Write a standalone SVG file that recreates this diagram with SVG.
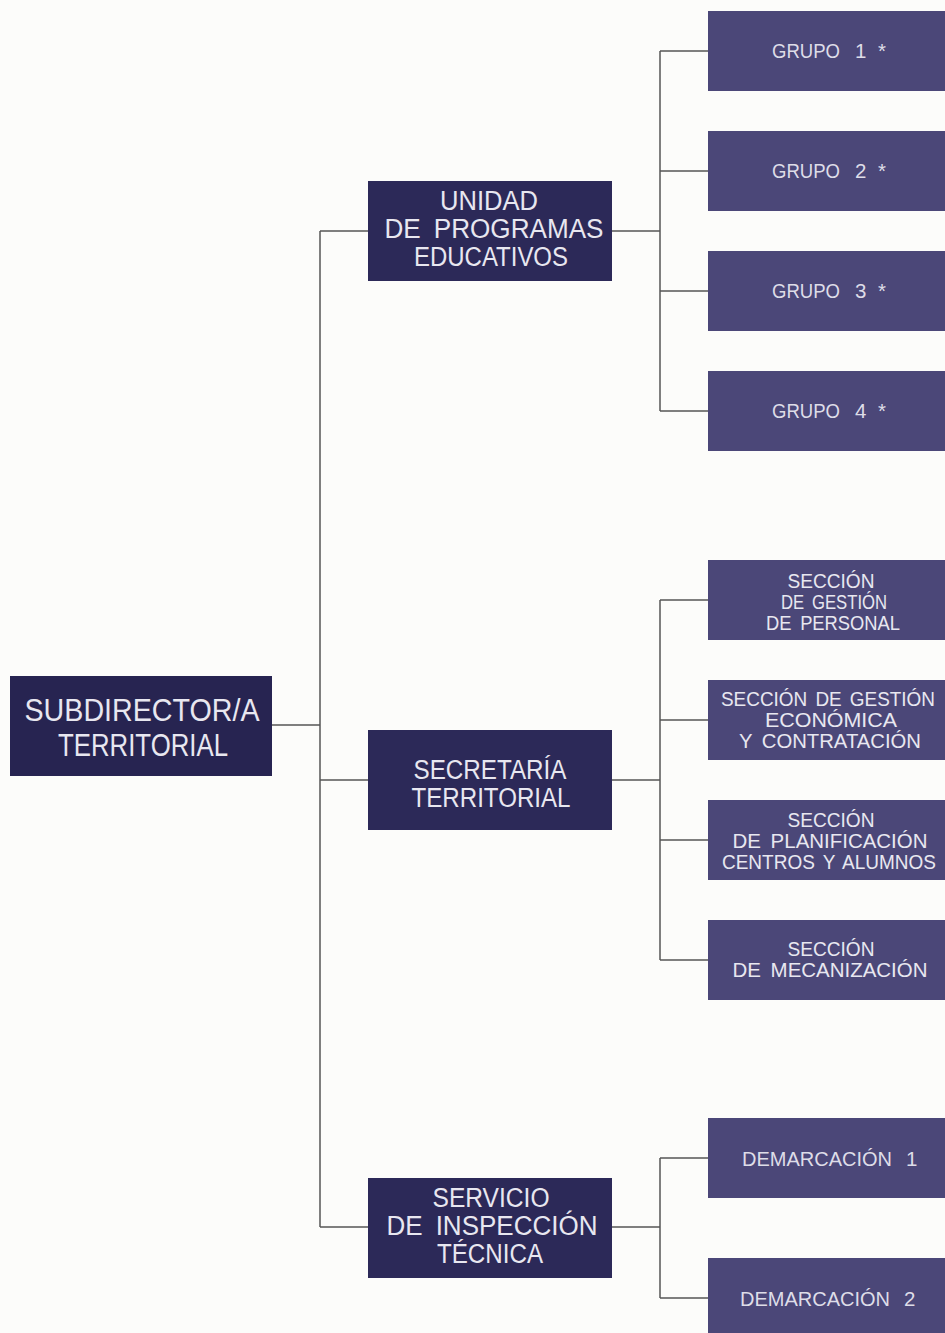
<svg xmlns="http://www.w3.org/2000/svg" width="945" height="1333" viewBox="0 0 945 1333">
<style>
.bg{fill:#fcfcfa}
.top{fill:#272451}
.mid{fill:#2c2958}
.leaf{fill:#4b4778}
.t{font-family:"Liberation Sans",Arial,sans-serif;fill:#e8e7f0;text-anchor:middle}
.tl{font-family:"Liberation Sans",Arial,sans-serif;fill:#dedde8}
.big{font-size:32px}
.m{font-size:27px;word-spacing:6px}
.s{font-size:20.5px;word-spacing:4px}
.n{font-size:19.5px;word-spacing:3px}
.c{stroke:#555;stroke-width:1.5;fill:none}
</style>
<rect class="bg" x="0" y="0" width="945" height="1333"/>
<g id="connectors">
<path class="c" d="M272 725H320M320 231V1227M320 231H368M320 780H368M320 1227H368"/>
<path class="c" d="M612 231H660M660 51V411M660 51H708M660 171H708M660 291H708M660 411H708"/>
<path class="c" d="M612 780H660M660 600V960M660 600H708M660 720H708M660 840H708M660 960H708"/>
<path class="c" d="M612 1227H660M660 1158V1298M660 1158H708M660 1298H708"/>
</g>
<g id="subdirector">
<rect class="top" x="10" y="676" width="262" height="100"/>
<text class="t big" x="142" y="721" textLength="235" lengthAdjust="spacingAndGlyphs">SUBDIRECTOR/A</text>
<text class="t big" x="143" y="756" textLength="170" lengthAdjust="spacingAndGlyphs">TERRITORIAL</text>
</g>
<g id="unidad">
<rect class="mid" x="368" y="181" width="244" height="100"/>
<text class="t m" x="489" y="210" textLength="98" lengthAdjust="spacingAndGlyphs">UNIDAD</text>
<text class="t m" x="494" y="238" textLength="219" lengthAdjust="spacingAndGlyphs">DE PROGRAMAS</text>
<text class="t m" x="491" y="266" textLength="154" lengthAdjust="spacingAndGlyphs">EDUCATIVOS</text>
</g>
<g id="secretaria">
<rect class="mid" x="368" y="730" width="244" height="100"/>
<text class="t m" x="490" y="779" textLength="153" lengthAdjust="spacingAndGlyphs">SECRETARÍA</text>
<text class="t m" x="491" y="807" textLength="159" lengthAdjust="spacingAndGlyphs">TERRITORIAL</text>
</g>
<g id="servicio">
<rect class="mid" x="368" y="1178" width="244" height="100"/>
<text class="t m" x="491" y="1207" textLength="117" lengthAdjust="spacingAndGlyphs">SERVICIO</text>
<text class="t m" x="492" y="1235" textLength="211" lengthAdjust="spacingAndGlyphs">DE INSPECCIÓN</text>
<text class="t m" x="490" y="1263" textLength="106" lengthAdjust="spacingAndGlyphs">TÉCNICA</text>
</g>
<g id="grupo1">
<rect class="leaf" x="708" y="11" width="245" height="80"/>
<text class="tl s" y="58"><tspan x="772" textLength="68" lengthAdjust="spacingAndGlyphs">GRUPO</tspan><tspan x="855">1</tspan><tspan x="878">*</tspan></text>
</g>
<g id="grupo2">
<rect class="leaf" x="708" y="131" width="245" height="80"/>
<text class="tl s" y="178"><tspan x="772" textLength="68" lengthAdjust="spacingAndGlyphs">GRUPO</tspan><tspan x="855">2</tspan><tspan x="878">*</tspan></text>
</g>
<g id="grupo3">
<rect class="leaf" x="708" y="251" width="245" height="80"/>
<text class="tl s" y="298"><tspan x="772" textLength="68" lengthAdjust="spacingAndGlyphs">GRUPO</tspan><tspan x="855">3</tspan><tspan x="878">*</tspan></text>
</g>
<g id="grupo4">
<rect class="leaf" x="708" y="371" width="245" height="80"/>
<text class="tl s" y="418"><tspan x="772" textLength="68" lengthAdjust="spacingAndGlyphs">GRUPO</tspan><tspan x="855">4</tspan><tspan x="878">*</tspan></text>
</g>
<g id="seccion-personal">
<rect class="leaf" x="708" y="560" width="245" height="80"/>
<text class="t s" x="831" y="588" textLength="87" lengthAdjust="spacingAndGlyphs">SECCIÓN</text>
<text class="t s" x="834" y="609" textLength="106" lengthAdjust="spacingAndGlyphs">DE GESTIÓN</text>
<text class="t s" x="833" y="630" textLength="134" lengthAdjust="spacingAndGlyphs">DE PERSONAL</text>
</g>
<g id="seccion-economica">
<rect class="leaf" x="708" y="680" width="245" height="80"/>
<text class="t n" x="828" y="706" textLength="214" lengthAdjust="spacingAndGlyphs">SECCIÓN DE GESTIÓN</text>
<text class="t s" x="831" y="727" textLength="132" lengthAdjust="spacingAndGlyphs">ECONÓMICA</text>
<text class="t s" x="830" y="748" textLength="182" lengthAdjust="spacingAndGlyphs">Y CONTRATACIÓN</text>
</g>
<g id="seccion-planificacion">
<rect class="leaf" x="708" y="800" width="245" height="80"/>
<text class="t s" x="831" y="827" textLength="87" lengthAdjust="spacingAndGlyphs">SECCIÓN</text>
<text class="t s" x="830" y="848" textLength="195" lengthAdjust="spacingAndGlyphs">DE PLANIFICACIÓN</text>
<text class="t n" x="829" y="869" textLength="214" lengthAdjust="spacingAndGlyphs">CENTROS Y ALUMNOS</text>
</g>
<g id="seccion-mecanizacion">
<rect class="leaf" x="708" y="920" width="245" height="80"/>
<text class="t s" x="831" y="956" textLength="87" lengthAdjust="spacingAndGlyphs">SECCIÓN</text>
<text class="t s" x="830" y="977" textLength="195" lengthAdjust="spacingAndGlyphs">DE MECANIZACIÓN</text>
</g>
<g id="demarcacion1">
<rect class="leaf" x="708" y="1118" width="245" height="80"/>
<text class="tl s" y="1166"><tspan x="742" textLength="150" lengthAdjust="spacingAndGlyphs">DEMARCACIÓN</tspan><tspan x="906">1</tspan></text>
</g>
<g id="demarcacion2">
<rect class="leaf" x="708" y="1258" width="245" height="80"/>
<text class="tl s" y="1306"><tspan x="740" textLength="150" lengthAdjust="spacingAndGlyphs">DEMARCACIÓN</tspan><tspan x="904">2</tspan></text>
</g>
</svg>
